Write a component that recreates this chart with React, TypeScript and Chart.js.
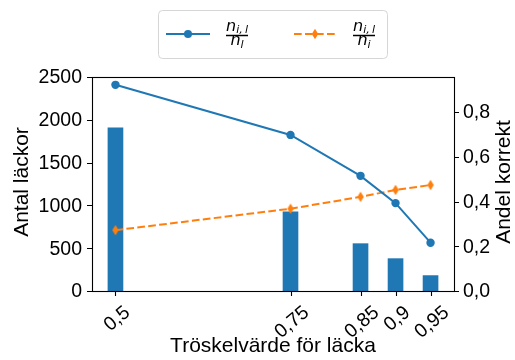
import { useEffect, useRef } from "react";
import { Chart, registerables } from "chart.js";

Chart.register(...registerables);

const thresholds = [0.5, 0.75, 0.85, 0.9, 0.95];
const xTickLabels = ["0,5", "0,75", "0,85", "0,9", "0,95"];
const leakCounts = [1905, 925, 553, 378, 180];
const ratioLeak = [0.922, 0.698, 0.515, 0.393, 0.216];
const ratioCorrect = [0.272, 0.368, 0.421, 0.452, 0.474];
const yLeftTicks = [0, 500, 1000, 1500, 2000, 2500];
const yRightTicks = [0, 0.2, 0.4, 0.6, 0.8];
const yRightTickLabels = ["0,0", "0,2", "0,4", "0,6", "0,8"];
const xTitle = "Tröskelvärde för läcka";
const yLeftTitle = "Antal läckor";
const yRightTitle = "Andel korrekt";

const BLUE = "#1f77b4";
const ORANGE = "#ff7f0e";
const FONT = '"Liberation Sans", Arial, sans-serif';
const TICK_FONT = `19.5px ${FONT}`;
const TITLE_FONT = `21px ${FONT}`;

function makeDiamond(): HTMLCanvasElement {
  const c = document.createElement("canvas");
  c.width = 8;
  c.height = 12;
  const g = c.getContext("2d")!;
  g.fillStyle = ORANGE;
  g.beginPath();
  g.moveTo(4, 0.8);
  g.lineTo(7.2, 6);
  g.lineTo(4, 11.2);
  g.lineTo(0.8, 6);
  g.closePath();
  g.fill();
  return c;
}

function drawFraction(ctx: CanvasRenderingContext2D, x0: number, x1: number, barY: number, numSub: string, denSub: string) {
  const cx = (x0 + x1) / 2;
  ctx.save();
  ctx.fillStyle = "#000";
  ctx.strokeStyle = "#000";
  ctx.lineWidth = 1.5;
  ctx.beginPath();
  ctx.moveTo(x0, barY);
  ctx.lineTo(x1, barY);
  ctx.stroke();
  const big = 'italic 16px "DejaVu Sans", sans-serif';
  const small = 'italic 11px "DejaVu Sans", sans-serif';
  ctx.textBaseline = "alphabetic";
  ctx.textAlign = "left";
  ctx.font = big;
  const wn = ctx.measureText("n").width;
  ctx.font = small;
  const ws = ctx.measureText(numSub).width;
  let sx = cx - (wn + ws) / 2;
  ctx.font = big;
  ctx.fillText("n", sx, barY - 5);
  ctx.font = small;
  ctx.fillText(numSub, sx + wn, barY - 2.5);
  ctx.font = small;
  const wd = ctx.measureText(denSub).width;
  sx = cx - (wn + wd) / 2;
  ctx.font = big;
  ctx.fillText("n", sx, barY + 9.5);
  ctx.font = small;
  ctx.fillText(denSub, sx + wn, barY + 12);
  ctx.restore();
}

export default function App() {
  const ref = useRef<HTMLCanvasElement>(null);

  useEffect(() => {
    const canvas = ref.current!;
    const diamond = makeDiamond();

    const decor = {
      id: "decor",
      afterDatasetsDraw(chart: any) {
        const ctx: CanvasRenderingContext2D = chart.ctx;
        const a = chart.chartArea;
        const sx = chart.scales.x;
        const sy = chart.scales.y;
        const sy1 = chart.scales.y1;
        ctx.save();
        ctx.strokeStyle = "#000";
        ctx.lineWidth = 1.1;
        ctx.strokeRect(Math.round(a.left) + 0.5, Math.round(a.top) + 0.5, Math.round(a.right - a.left), Math.round(a.bottom - a.top));
        const tl = 5;
        ctx.beginPath();
        yLeftTicks.forEach((v) => {
          const y = Math.round(sy.getPixelForValue(v)) + 0.5;
          ctx.moveTo(a.left - tl, y);
          ctx.lineTo(a.left, y);
        });
        yRightTicks.forEach((v) => {
          const y = Math.round(sy1.getPixelForValue(v)) + 0.5;
          ctx.moveTo(a.right, y);
          ctx.lineTo(a.right + tl, y);
        });
        thresholds.forEach((v) => {
          const x = Math.round(sx.getPixelForValue(v)) + 0.5;
          ctx.moveTo(x, a.bottom);
          ctx.lineTo(x, a.bottom + tl);
        });
        ctx.stroke();

        ctx.fillStyle = "#000";
        ctx.font = TICK_FONT;
        ctx.textBaseline = "middle";
        ctx.textAlign = "right";
        yLeftTicks.forEach((v) => {
          ctx.fillText(String(v), a.left - tl - 5, sy.getPixelForValue(v) + 1);
        });
        ctx.textAlign = "left";
        yRightTicks.forEach((v, i) => {
          ctx.fillText(yRightTickLabels[i], a.right + tl + 4, sy1.getPixelForValue(v) + 1);
        });
        const ang = (40 * Math.PI) / 180;
        ctx.textAlign = "center";
        thresholds.forEach((v, i) => {
          const t = xTickLabels[i];
          const w = ctx.measureText(t).width;
          const h = 14;
          const bh = w * Math.sin(ang) + h * Math.cos(ang);
          const cx = sx.getPixelForValue(v) + 1;
          const cy = a.bottom + tl + 8 + bh / 2;
          ctx.save();
          ctx.translate(cx, cy);
          ctx.rotate(-ang);
          ctx.fillText(t, 0, 1);
          ctx.restore();
        });
        ctx.font = TITLE_FONT;
        ctx.textAlign = "center";
        ctx.textBaseline = "middle";
        ctx.fillText(xTitle, (a.left + a.right) / 2, 346);
        ctx.save();
        ctx.translate(22, (a.top + a.bottom) / 2 - 2);
        ctx.rotate(-Math.PI / 2);
        ctx.fillText(yLeftTitle, 0, 0);
        ctx.restore();
        ctx.save();
        ctx.translate(504, (a.top + a.bottom) / 2 - 2);
        ctx.rotate(-Math.PI / 2);
        ctx.fillText(yRightTitle, 0, 0);
        ctx.restore();

        const lx = 158.5, ly = 10.5, lw = 229, lh = 48, r = 4;
        ctx.fillStyle = "rgba(255,255,255,0.8)";
        ctx.strokeStyle = "#d6d6d6";
        ctx.lineWidth = 1;
        ctx.beginPath();
        ctx.moveTo(lx + r, ly);
        ctx.lineTo(lx + lw - r, ly);
        ctx.arcTo(lx + lw, ly, lx + lw, ly + r, r);
        ctx.lineTo(lx + lw, ly + lh - r);
        ctx.arcTo(lx + lw, ly + lh, lx + lw - r, ly + lh, r);
        ctx.lineTo(lx + r, ly + lh);
        ctx.arcTo(lx, ly + lh, lx, ly + lh - r, r);
        ctx.lineTo(lx, ly + r);
        ctx.arcTo(lx, ly, lx + r, ly, r);
        ctx.closePath();
        ctx.fill();
        ctx.stroke();

        const yl = 34;
        ctx.lineWidth = 2;
        ctx.strokeStyle = BLUE;
        ctx.beginPath();
        ctx.moveTo(166, yl);
        ctx.lineTo(210, yl);
        ctx.stroke();
        ctx.fillStyle = BLUE;
        ctx.beginPath();
        ctx.arc(188, yl, 4, 0, Math.PI * 2);
        ctx.fill();

        ctx.strokeStyle = ORANGE;
        ctx.setLineDash([7.7, 3.3]);
        ctx.beginPath();
        ctx.moveTo(294, yl);
        ctx.lineTo(337, yl);
        ctx.stroke();
        ctx.setLineDash([]);
        ctx.drawImage(diamond, 315 - 4, yl - 6);

        drawFraction(ctx, 226, 248, 35.5, "i,\u2009l", "l");
        drawFraction(ctx, 353, 375, 35.5, "i,\u2009l", "i");
        ctx.restore();
      },
    };

    const chart = new Chart(canvas, {
      type: "bar",
      data: {
        datasets: [
          {
            type: "line",
            label: "n_il/n_l",
            data: thresholds.map((x, i) => ({ x, y: ratioLeak[i] })),
            yAxisID: "y1",
            borderColor: BLUE,
            backgroundColor: BLUE,
            borderWidth: 2,
            pointRadius: 4.2,
            pointHoverRadius: 4.2,
            pointBorderWidth: 0,
            order: 0,
          } as any,
          {
            type: "line",
            label: "n_il/n_i",
            data: thresholds.map((x, i) => ({ x, y: ratioCorrect[i] })),
            yAxisID: "y1",
            borderColor: ORANGE,
            backgroundColor: ORANGE,
            borderWidth: 2,
            borderDash: [7.7, 3.3],
            pointStyle: diamond,
            pointRadius: 5,
            pointHoverRadius: 5,
            order: 0,
          } as any,
          {
            type: "bar",
            label: "Antal läckor",
            data: thresholds.map((x, i) => ({ x, y: leakCounts[i] })),
            yAxisID: "y",
            backgroundColor: BLUE,
            barThickness: 15,
            order: 1,
          } as any,
        ],
      },
      options: {
        responsive: false,
        animation: false,
        devicePixelRatio: 1,
        layout: { padding: { left: 92, top: 77, right: 61, bottom: 69 } },
        plugins: { legend: { display: false }, tooltip: { enabled: false } },
        scales: {
          x: { type: "linear", min: 0.4665, max: 0.9835, display: false, offset: false },
          y: { type: "linear", min: 0, max: 2500, display: false, position: "left" },
          y1: { type: "linear", min: 0, max: 0.957, display: false, position: "right" },
        },
      } as any,
      plugins: [decor],
    });
    return () => chart.destroy();
  }, []);

  return (
    <div style={{ position: "fixed", left: 0, top: 0, width: 515, height: 360, background: "#fff" }}>
      <canvas ref={ref} width={515} height={360} style={{ display: "block" }} />
    </div>
  );
}
